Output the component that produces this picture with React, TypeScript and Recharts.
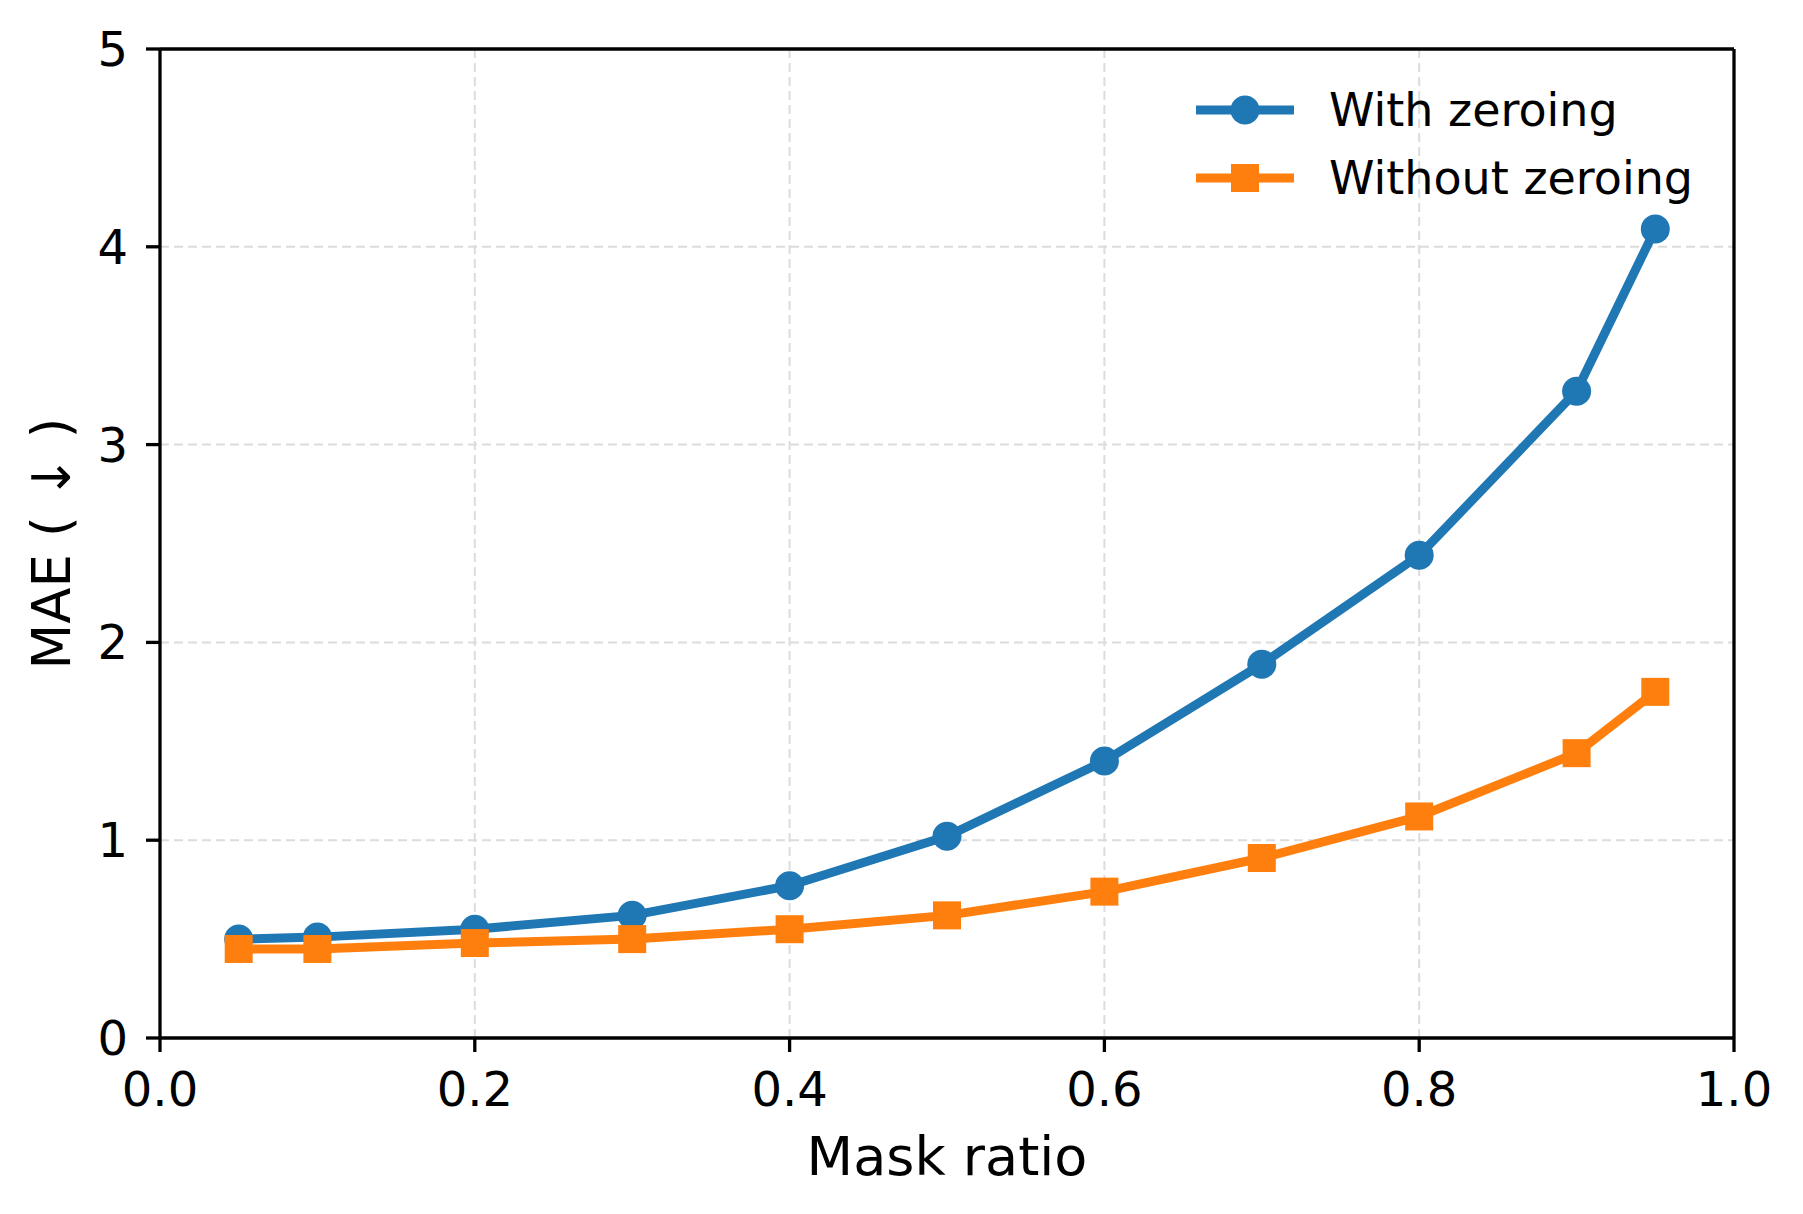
import {
  CartesianGrid,
  Label,
  Legend,
  Line,
  LineChart,
  ReferenceLine,
  XAxis,
  YAxis,
} from "recharts"

const maskRatio = [0.05, 0.1, 0.2, 0.3, 0.4, 0.5, 0.6, 0.7, 0.8, 0.9, 0.95]
const withZeroing = [0.5, 0.51, 0.55, 0.62, 0.77, 1.02, 1.4, 1.89, 2.44, 3.27, 4.09]
const withoutZeroing = [0.45, 0.45, 0.48, 0.5, 0.55, 0.62, 0.74, 0.91, 1.12, 1.44, 1.75]

const xTicks = [0, 0.2, 0.4, 0.6, 0.8, 1]
const yTicks = [0, 1, 2, 3, 4, 5]

const BLUE = "#1f77b4"
const ORANGE = "#ff7f0e"
const FONT = "DejaVu Sans"

const data = maskRatio.map((m, i) => ({
  mask: m,
  withZero: withZeroing[i],
  withoutZero: withoutZeroing[i],
}))

function CircleDot(props: any) {
  const { cx, cy } = props
  if (cx == null || cy == null) return null
  return <circle cx={cx} cy={cy} r={14.5} fill={BLUE} />
}

function SquareDot(props: any) {
  const { cx, cy } = props
  if (cx == null || cy == null) return null
  return <rect x={cx - 14} y={cy - 14} width={28} height={28} fill={ORANGE} />
}

function LegendBox({ payload }: any) {
  return (
    <div style={{ fontFamily: FONT, fontSize: 46, color: "#000" }}>
      {(payload || []).map((entry: any, i: number) => (
        <div
          key={entry.value}
          style={{ display: "flex", alignItems: "center", height: 68 }}
        >
          <svg width={98} height={40} style={{ marginRight: 35 }}>
            <line x1={0} y1={20} x2={98} y2={20} stroke={entry.color} strokeWidth={9} />
            {i === 0 ? (
              <circle cx={49} cy={20} r={14.5} fill={entry.color} />
            ) : (
              <rect x={35} y={6} width={28} height={28} fill={entry.color} />
            )}
          </svg>
          <span>{entry.value}</span>
        </div>
      ))}
    </div>
  )
}

const tickStyle = { fill: "#000", fontSize: 48, fontFamily: FONT }

export default function App() {
  return (
    <div style={{ position: "absolute", left: 0, top: 0, background: "#fff" }}>
      <LineChart
        width={1803}
        height={1214}
        data={data}
        margin={{ top: 49, right: 69, left: 0, bottom: 0 }}
      >
        <CartesianGrid stroke="#dcdcdc" strokeWidth={2} strokeDasharray="9 5" />
        <XAxis
          dataKey="mask"
          type="number"
          domain={[0, 1]}
          ticks={xTicks}
          tickFormatter={(v: number) => v.toFixed(1)}
          height={176}
          tick={tickStyle}
          tickSize={14}
          tickMargin={20}
          axisLine={{ stroke: "#000", strokeWidth: 3.3 }}
          tickLine={{ stroke: "#000", strokeWidth: 3.3 }}
        >
          <Label
            content={({ viewBox }: any) => (
              <text
                x={viewBox.x + viewBox.width / 2}
                y={viewBox.y + 137}
                textAnchor="middle"
                fontFamily={FONT}
                fontSize={54}
                fill="#000"
              >
                Mask ratio
              </text>
            )}
          />
        </XAxis>
        <YAxis
          type="number"
          domain={[0, 5]}
          ticks={yTicks}
          width={160}
          tick={tickStyle}
          tickSize={14}
          tickMargin={18}
          axisLine={{ stroke: "#000", strokeWidth: 3.3 }}
          tickLine={{ stroke: "#000", strokeWidth: 3.3 }}
        >
          <Label
            content={({ viewBox }: any) => {
              const cy = viewBox.y + viewBox.height / 2
              return (
                <text
                  x={70}
                  y={cy}
                  transform={`rotate(-90, 70, ${cy})`}
                  textAnchor="middle"
                  fontFamily={FONT}
                  fontSize={53}
                  fill="#000"
                >
                  MAE ( ↓ )
                </text>
              )
            }}
          />
        </YAxis>
        <ReferenceLine y={5} stroke="#000" strokeWidth={3.3} />
        <ReferenceLine x={1} stroke="#000" strokeWidth={3.3} />
        <Legend
          layout="vertical"
          align="center"
          verticalAlign="middle"
          content={<LegendBox />}
          wrapperStyle={{ position: "absolute", left: 1196, top: 76, width: 560 }}
        />
        <Line
          name="With zeroing"
          dataKey="withZero"
          type="linear"
          stroke={BLUE}
          strokeWidth={9}
          dot={<CircleDot />}
          activeDot={false}
          isAnimationActive={false}
        />
        <Line
          name="Without zeroing"
          dataKey="withoutZero"
          type="linear"
          stroke={ORANGE}
          strokeWidth={9}
          dot={<SquareDot />}
          activeDot={false}
          isAnimationActive={false}
        />
      </LineChart>
    </div>
  )
}
